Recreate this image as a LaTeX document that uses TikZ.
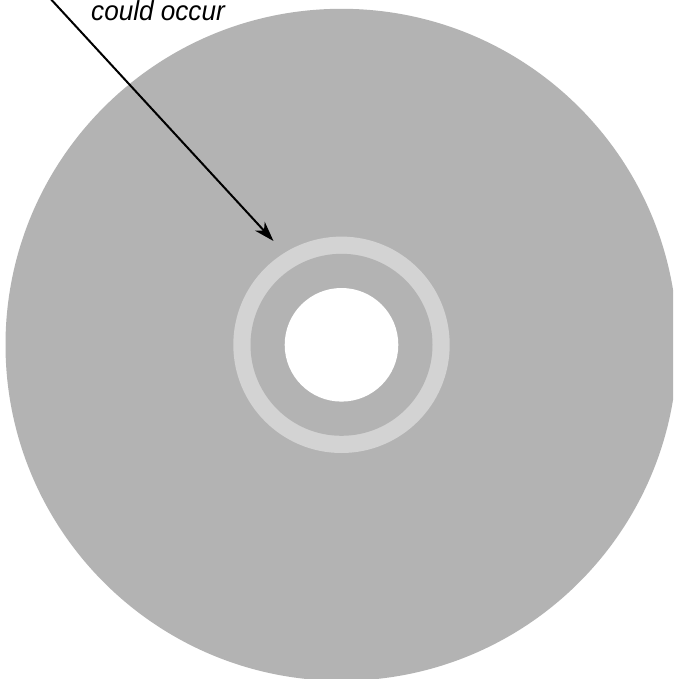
\documentclass[tikz,border=0pt]{standalone}
\usepackage{fontspec}
\setmainfont{Liberation Sans}
\newfontfamily\labelfont[FakeStretch=0.95]{Liberation Sans}
\usetikzlibrary{arrows.meta}
\definecolor{discgray}{RGB}{179,179,179}
\definecolor{ringgray}{RGB}{211,211,211}
\tikzset{
  label text/.style={font=\labelfont\fontsize{27.5}{32}\selectfont\itshape, inner sep=0pt, anchor=base west},
  pointer/.style={line width=2pt, -{Stealth[length=20pt,width=13pt,inset=6pt]}}
}
\begin{document}
\begin{tikzpicture}[x=1pt,y=-1pt]
\useasboundingbox (0,0) rectangle (673,679);
\clip (0,0) rectangle (673,679);
\fill[white] (0,0) rectangle (673,679);
\coordinate (c) at (341.5,344.8);
\fill[discgray] (c) circle[radius=336];
\fill[ringgray] (c) circle[radius=108.2];
\fill[discgray] (c) circle[radius=91];
\fill[white] (c) circle[radius=56.8];
\node[label text] (txt) at (91,20.5) {could occur};
\coordinate (start) at (36,-17);
\coordinate (tip) at (273.5,241);
\draw[pointer] (start) -- (tip);
\end{tikzpicture}
\end{document}
